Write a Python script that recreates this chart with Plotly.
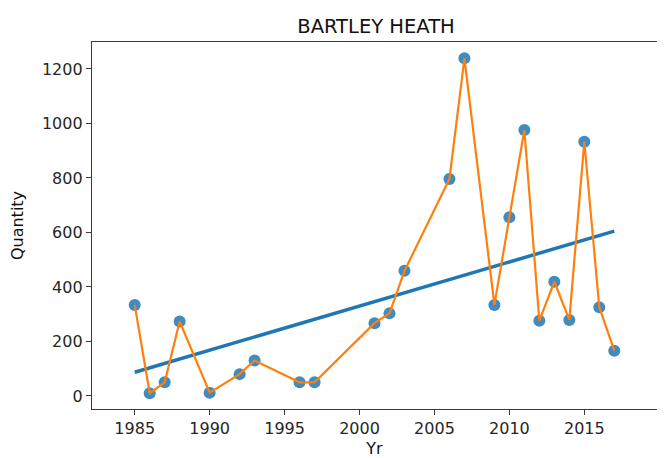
import plotly.graph_objects as go

years = [1985, 1986, 1987, 1988, 1990, 1992, 1993, 1996, 1997, 2001, 2002, 2003,
         2006, 2007, 2009, 2010, 2011, 2012, 2013, 2014, 2015, 2016, 2017]
quantity = [334, 10, 50, 273, 12, 80, 130, 50, 50, 267, 303, 459,
            796, 1239, 334, 656, 976, 276, 419, 279, 933, 325, 166]
trend_years = [1985, 2017]
trend_values = [87, 605]
x_ticks = [1985, 1990, 1995, 2000, 2005, 2010, 2015]
y_ticks = [0, 200, 400, 600, 800, 1000, 1200]

blue = "#1f77b4"
orange = "#ff7f0e"
font = "DejaVu Sans"

# page body has an 8px margin, so the figure is drawn 8px smaller and offset
W, H = 657, 450

fig = go.Figure()
fig.add_trace(go.Scatter(x=trend_years, y=trend_values, mode="lines",
                         line=dict(color=blue, width=3.5), showlegend=False))
fig.add_trace(go.Scatter(x=years, y=quantity, mode="markers",
                         marker=dict(color=blue, size=12, opacity=0.85, line=dict(width=0)),
                         showlegend=False))
fig.add_trace(go.Scatter(x=years, y=quantity, mode="lines",
                         line=dict(color=orange, width=2.2), showlegend=False))

axis_common = dict(showgrid=False, zeroline=False, showline=True, mirror=True,
                   automargin=False,
                   linecolor="#3a3a3a", linewidth=1.3, ticks="outside", ticklen=5,
                   tickwidth=1.2, tickcolor="#3a3a3a",
                   tickfont=dict(family=font, size=16, color="#262626"))

fig.update_layout(
    width=W, height=H,
    margin=dict(l=84, r=8, t=34, b=49),
    paper_bgcolor="white", plot_bgcolor="white",
    title=dict(text="BARTLEY HEATH", x=368 / W, xanchor="center",
               y=1 - 18 / H, yanchor="middle",
               font=dict(family=font, size=19.5, color="#111111")),
    xaxis=dict(range=[1982.15, 2019.85], tickvals=x_ticks,
               title=dict(text="Yr", standoff=10, font=dict(family=font, size=16, color="#111111")),
               **axis_common),
    yaxis=dict(range=[-48, 1299], tickvals=y_ticks,
               title=dict(text="Quantity", standoff=15, font=dict(family=font, size=16, color="#111111")),
               **axis_common),
)

fig.write_html("out.html")
